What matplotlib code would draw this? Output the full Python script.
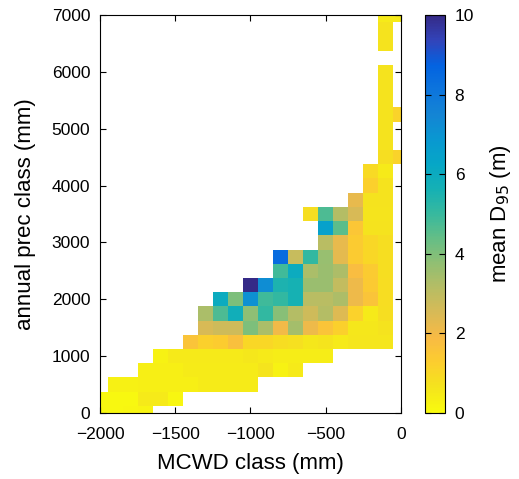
import matplotlib
matplotlib.use('Agg')
import matplotlib.pyplot as plt
import numpy as np
from matplotlib.colors import LinearSegmentedColormap

# class centres (mm)
mcwd_class = np.arange(-2000, 1, 100)
prec_class = np.arange(0, 7001, 250)

# first MCWD class that has data in each precipitation row, then the values
row_start = [-2000, -2000, -1900, -1700, -1600, -1400, -1300, -1300, -1200, -1000,
             -800, -800, -500, -500, -600, -300, -200, -200, -100, -100,
             -100, -100, -100, -100, -100, None, -100, -100, -100]
row_values = [
    [0.1, 0.1, 0.15, 0.2],
    [0.1, 0.1, 0.1, 0.5, 0.5, 0.15],
    [0.3, 0.3, 0.35, 0.35, 0.35, 0.35, 0.45, 0.45, 0.45, 0.45],
    [0.35, 0.35, 0.35, 0.45, 0.45, 0.45, 0.45, 0.45, 0.65, 0.25, 0.5],
    [0.25, 0.5, 0.5, 0.5, 0.5, 0.5, 0.55, 0.5, 0.4, 0.4, 0.4, 0.4],
    [1.6, 1.2, 1.3, 1.7, 1.0, 1.0, 0.85, 0.75, 0.55, 0.65, 0.5, 0.6, 0.6, 0.6],
    [2.5, 2.7, 2.7, 4.05, 3.35, 2.0, 3.45, 2.1, 1.6, 1.2, 0.55, 0.55, 0.7],
    [3.35, 4.7, 5.8, 3.8, 5.1, 3.9, 3.2, 2.7, 3.2, 2.4, 1.15, 0.5, 0.8],
    [6.0, 4.05, 7.1, 4.9, 5.1, 5.6, 3.1, 3.1, 3.3, 2.1, 1.6, 0.85],
    [10.0, 7.2, 5.5, 5.6, 3.6, 3.6, 2.9, 2.1, 1.4, 0.85],
    [4.85, 6.0, 3.35, 3.6, 3.3, 1.8, 1.35, 0.8],
    [8.4, 2.85, 5.1, 3.65, 2.3, 1.35, 1.0, 0.8],
    [3.1, 2.2, 1.35, 1.0, 0.8],
    [6.5, 4.5, 1.5, 0.7, 0.7],
    [0.8, 4.7, 3.2, 2.5, 0.65, 0.65],
    [2.2, 0.7, 0.7],
    [1.2, 0.7],
    [0.9, 0.5],
    [0.8, 1.1],
    [0.7],
    [0.7],
    [0.7, 1.1],
    [0.7],
    [0.7],
    [0.7],
    [],
    [0.7],
    [0.7],
    [0.5, 0.5],
]

# parula (reversed below)
parula = [
    (0.2081, 0.1663, 0.5292), (0.1959, 0.2645, 0.7279), (0.0117, 0.3875, 0.8820),
    (0.0498, 0.4586, 0.8641), (0.0793, 0.5200, 0.8312), (0.0343, 0.5966, 0.8199),
    (0.0228, 0.6535, 0.7768), (0.0843, 0.6928, 0.7062), (0.2178, 0.7250, 0.6193),
    (0.3953, 0.7459, 0.5244), (0.5709, 0.7485, 0.4494), (0.7184, 0.7411, 0.3905),
    (0.8507, 0.7299, 0.3360), (0.9739, 0.7314, 0.2666), (0.9880, 0.8066, 0.1794),
    (0.9589, 0.8949, 0.1132), (0.9763, 0.9831, 0.0538)]
cmap = LinearSegmentedColormap.from_list('parula_r', parula[::-1], N=256)

# build grid
grid = np.full((len(prec_class), len(mcwd_class)), np.nan)
for i, (start, vals) in enumerate(zip(row_start, row_values)):
    if start is None:
        continue
    j0 = int((start - mcwd_class[0]) / 100)
    grid[i, j0:j0 + len(vals)] = vals

x_edges = np.append(mcwd_class - 50, mcwd_class[-1] + 50)
y_edges = np.append(prec_class - 125, prec_class[-1] + 125)

plt.rcParams['font.family'] = ['Liberation Sans', 'DejaVu Sans']

tick_size = 12.5
label_size = 16

fig = plt.figure(figsize=(5.19, 4.79), dpi=100)
ax = fig.add_axes([100/519, 66/479, 301/519, 398/479])
mesh = ax.pcolormesh(x_edges, y_edges, np.ma.masked_invalid(grid),
                     cmap=cmap, vmin=0, vmax=10)
ax.set_xlim(-2000, 0)
ax.set_ylim(0, 7000)
ax.set_xticks([-2000, -1500, -1000, -500, 0])
ax.set_yticks(np.arange(0, 7001, 1000))
ax.tick_params(direction='in', top=True, right=True, labelsize=tick_size, length=4)
ax.tick_params(axis='x', pad=10)
ax.tick_params(axis='y', pad=7)
ax.set_xlabel('MCWD class (mm)', fontsize=label_size, labelpad=8)
ax.set_ylabel('annual prec class (mm)', fontsize=label_size, labelpad=11)

cax = fig.add_axes([425/519, 66/479, 20/519, 398/479])
cb = fig.colorbar(mesh, cax=cax, ticks=[0, 2, 4, 6, 8, 10])
cb.ax.tick_params(direction='in', left=True, right=True, labelsize=tick_size,
                  length=4, pad=7)
cb.set_label('mean D$_{95}$ (m)', fontsize=label_size, labelpad=10)

fig.savefig('out.png', dpi=100)
